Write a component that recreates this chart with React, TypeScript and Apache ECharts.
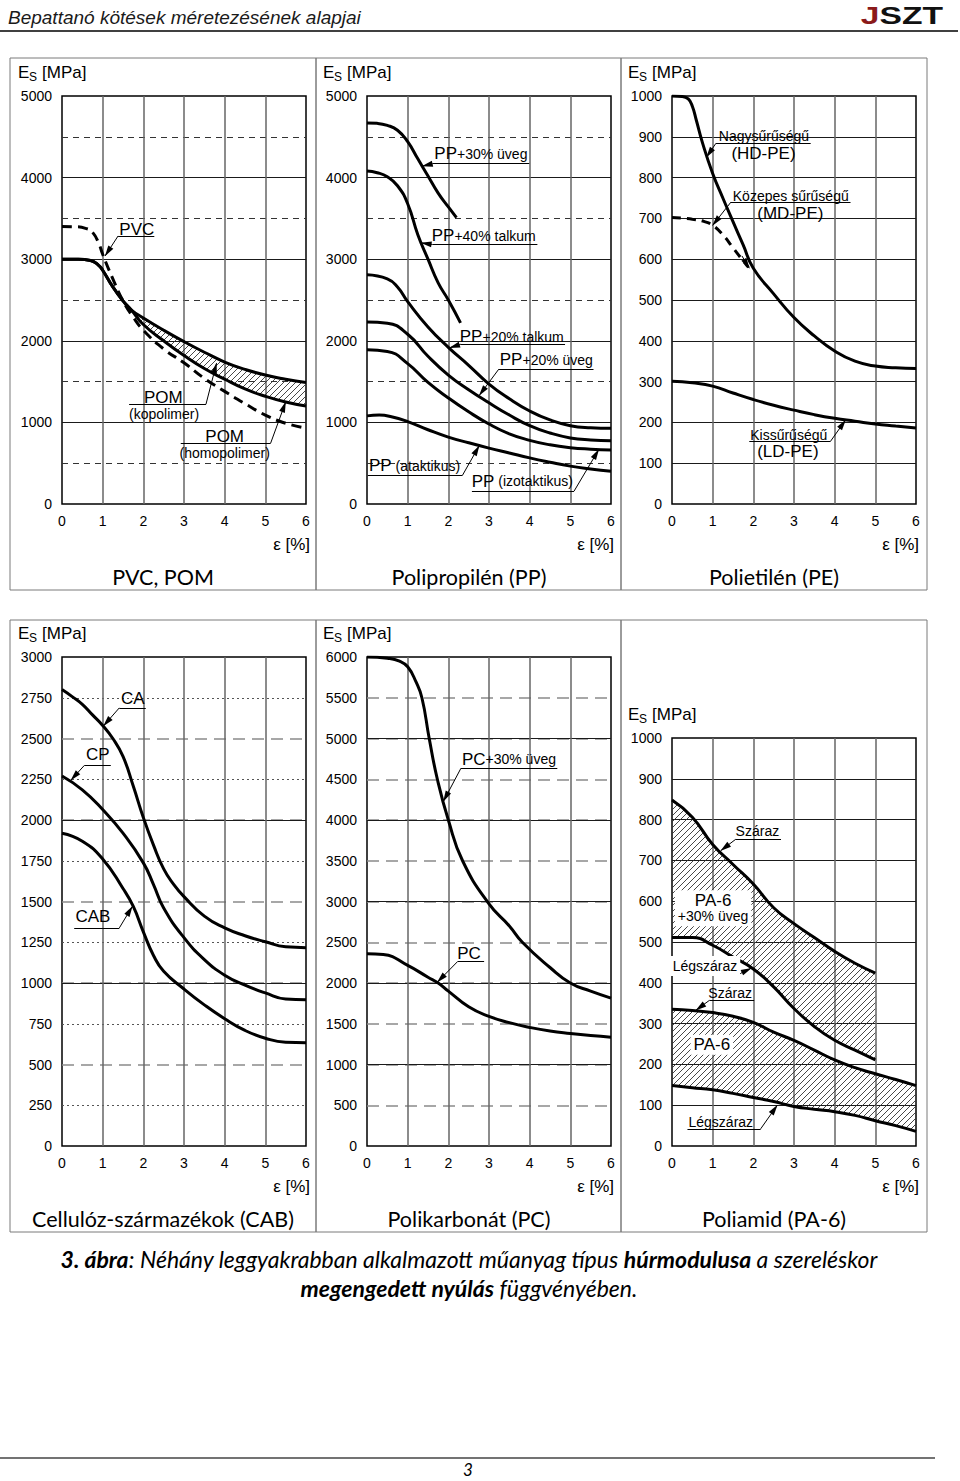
import React, { useEffect, useRef } from "react";
import * as echarts from "echarts";

type Pt = [number, number];

// ---------- DATA: strain ε [%] → secant modulus Es [MPa] ----------
// Panel 1: PVC, POM
const pvcCurve: Pt[] = [[0, 3400], [0.3, 3398], [0.6, 3375], [0.75, 3330], [0.9, 3200], [1, 3060], [1.25, 2760], [1.5, 2490], [1.75, 2290], [2, 2130], [2.5, 1900], [3, 1730], [3.5, 1540], [4, 1380], [4.5, 1230], [5, 1090], [5.5, 990], [6, 930]];
const pomShared: Pt[] = [[0, 3000], [0.4, 3000], [0.7, 2985], [0.9, 2925], [1, 2865], [1.25, 2660], [1.5, 2490]];
const pomKopolimer: Pt[] = [[1.7, 2380], [2, 2280], [2.5, 2130], [3, 1990], [3.5, 1860], [4, 1740], [4.5, 1650], [5, 1580], [5.5, 1530], [6, 1490]];
const pomHomopolimer: Pt[] = [[1.7, 2380], [2, 2200], [2.5, 2000], [3, 1820], [3.5, 1660], [4, 1530], [4.5, 1410], [5, 1320], [5.5, 1250], [6, 1200]];

// Panel 2: PP
const pp30Glass: Pt[] = [[0, 4670], [0.25, 4665], [0.5, 4640], [0.75, 4580], [1, 4440], [1.25, 4230], [1.5, 4020], [1.75, 3810], [2, 3640], [2.2, 3510]];
const pp40Talc: Pt[] = [[0, 4080], [0.25, 4060], [0.5, 4010], [0.75, 3900], [1, 3680], [1.25, 3300], [1.5, 3000], [1.75, 2710], [2, 2500], [2.3, 2220]];
const pp20Talc: Pt[] = [[0, 2810], [0.5, 2760], [0.75, 2660], [1, 2480], [1.5, 2170], [2, 1920], [2.5, 1700], [3, 1470], [3.5, 1290], [4, 1140], [4.5, 1030], [5, 960], [5.5, 935], [6, 928]];
const pp20Glass: Pt[] = [[0, 2230], [0.5, 2215], [1, 2080], [1.5, 1810], [2, 1580], [2.5, 1400], [3, 1240], [3.5, 1090], [4, 960], [4.5, 870], [5, 810], [5.5, 785], [6, 776]];
const ppIsotactic: Pt[] = [[0, 1890], [0.5, 1870], [1, 1720], [1.5, 1490], [2, 1300], [2.5, 1130], [3, 980], [3.5, 860], [4, 780], [4.5, 725], [5, 690], [5.5, 672], [6, 662]];
const ppAtactic: Pt[] = [[0, 1080], [0.3, 1090], [0.6, 1070], [1, 1010], [1.5, 910], [2, 820], [2.5, 750], [3, 685], [3.5, 625], [4, 565], [4.5, 512], [5, 464], [5.5, 428], [6, 400]];

// Panel 3: PE
const hdpe: Pt[] = [[0, 1000], [0.25, 999], [0.4, 993], [0.5, 975], [0.6, 940], [0.75, 885], [1, 810], [1.25, 750], [1.5, 692], [1.75, 635], [2, 578], [2.5, 515], [3, 457], [3.5, 412], [4, 375], [4.5, 350], [5, 338], [5.5, 334], [6, 332]];
const mdpe: Pt[] = [[0, 702], [0.5, 698], [0.8, 692], [1, 683], [1.25, 660], [1.5, 628], [1.75, 596], [1.88, 580]];
const ldpe: Pt[] = [[0, 301], [0.5, 297], [1, 289], [1.5, 272], [2, 256], [2.5, 242], [3, 230], [3.5, 219], [4, 210], [4.5, 203], [5, 196], [5.5, 191], [6, 186]];

// Panel 4: cellulose derivatives
const caCurve: Pt[] = [[0, 2800], [0.25, 2757], [0.5, 2710], [0.75, 2645], [1, 2580], [1.25, 2500], [1.5, 2390], [1.75, 2210], [2, 2015], [2.25, 1846], [2.5, 1700], [2.75, 1604], [3, 1530], [3.5, 1410], [4, 1338], [4.5, 1290], [5, 1253], [5.5, 1222], [6, 1217]];
const cpCurve: Pt[] = [[0, 2270], [0.5, 2185], [1, 2064], [1.5, 1919], [2, 1737], [2.25, 1604], [2.5, 1460], [3, 1278], [3.5, 1144], [4, 1048], [4.5, 987], [5, 939], [5.5, 902], [6, 898]];
const cabCurve: Pt[] = [[0, 1919], [0.5, 1870], [1, 1761], [1.5, 1580], [1.75, 1471], [2, 1314], [2.25, 1169], [2.5, 1072], [3, 963], [3.5, 866], [4, 781], [4.5, 709], [5, 661], [5.5, 636], [6, 633]];

// Panel 5: PC
const pc30Glass: Pt[] = [[0, 6000], [0.5, 5985], [0.8, 5950], [1, 5880], [1.2, 5700], [1.35, 5500], [1.53, 5000], [1.73, 4500], [2, 4000], [2.35, 3500], [3, 2970], [3.5, 2700], [3.82, 2500], [4.5, 2190], [5, 2000], [5.5, 1900], [6, 1815]];
const pcCurve: Pt[] = [[0, 2360], [0.4, 2350], [1, 2216], [1.5, 2071], [1.75, 2000], [2, 1901], [2.5, 1708], [3, 1590], [3.5, 1514], [4, 1455], [4.5, 1410], [5, 1380], [5.5, 1355], [6, 1335]];

// Panel 6: PA-6
const pa30Dry: Pt[] = [[0, 848], [0.5, 806], [1, 739], [1.5, 690], [2, 642], [2.5, 584], [3, 545], [3.5, 511], [4, 477], [4.5, 448], [5, 424]];
const pa30AirDry: Pt[] = [[0, 511], [0.5, 511], [1, 492], [1.5, 463], [2, 434], [2.5, 390], [3, 337], [3.5, 293], [4, 259], [4.5, 235], [5, 211]];
const pa6Dry: Pt[] = [[0, 335], [0.5, 332], [1, 327], [1.5, 318], [2, 303], [2.5, 279], [3, 259], [3.5, 235], [4, 211], [4.5, 192], [5, 177], [5.5, 163], [6, 148]];
const pa6AirDry: Pt[] = [[0, 148], [0.5, 143], [1, 138], [1.5, 129], [2, 119], [2.5, 109], [3, 97], [3.5, 90], [4, 84], [4.5, 75], [5, 62], [5.5, 50], [6, 36]];

// Axis settings
const yMax = [5000, 5000, 1000, 3000, 6000, 1000];
const panelTitles = ["PVC, POM", "Polipropilén (PP)", "Polietilén (PE)", "Cellulóz-származékok (CAB)", "Polikarbonát (PC)", "Poliamid (PA-6)"];

// ---------- STYLE ----------
const FONT = '"Liberation Sans", Arial, Helvetica, sans-serif';
const CAL = 'Lato, "Open Sans", sans-serif';
const SMOOTH = 0.5;
const RICH: any = {
  L: { fontSize: 17, fontFamily: FONT, color: "#000" },
  m: { fontSize: 14, fontFamily: FONT, color: "#000" },
};
const SOLID = { color: "#1a1a1a", width: 1, type: "solid" };
const DASH = { color: "#333", width: 1, type: [6, 5] };
const LONG = { color: "#8a8a8a", width: 1.5, type: [12, 7] };
const DOT = { color: "#555", width: 1, type: [2, 3] };

const hatchSvg =
  "<svg xmlns='http://www.w3.org/2000/svg' width='6' height='6'><path d='M0 6L6 0M-1 1L1 -1M5 7L7 5' stroke='#333' stroke-width='0.9'/></svg>";
const HATCH: any = {
  image: "data:image/svg+xml;charset=utf-8," + encodeURIComponent(hatchSvg),
  repeat: "repeat",
  imageWidth: 6,
  imageHeight: 6,
};

type Note = { t: string; at: Pt; bg?: boolean };
type Under = [number, number, number];
type Lead = [Pt, Pt];

function buildOption(): any {
  const gridBoxes = [
    { left: 62, top: 96, width: 244, height: 408 },
    { left: 367, top: 96, width: 244, height: 408 },
    { left: 672, top: 96, width: 244, height: 408 },
    { left: 62, top: 657, width: 244, height: 489 },
    { left: 367, top: 657, width: 244, height: 489 },
    { left: 672, top: 738, width: 244, height: 408 },
  ];
  const grid = gridBoxes.map((g) => ({
    ...g,
    show: true,
    borderColor: "#000",
    borderWidth: 1.5,
    backgroundColor: "transparent",
    containLabel: false,
    outerBoundsMode: "none",
  }));

  const xAxis = gridBoxes.map((_, i) => ({
    type: "value",
    gridIndex: i,
    min: 0,
    max: 6,
    interval: 1,
    axisLine: { show: false },
    axisTick: { show: false },
    axisLabel: { color: "#000", fontSize: 14, fontFamily: FONT, margin: 10 },
    splitLine: { show: true, showMinLine: false, showMaxLine: false, lineStyle: { color: "#666", width: 1.5 } },
  }));

  const yBase = (g: number, interval: number, labels = true, split: any = null, minor: any = null): any => ({
    type: "value",
    gridIndex: g,
    min: 0,
    max: yMax[g],
    interval,
    axisLine: { show: false },
    axisTick: { show: false },
    axisLabel: {
      show: labels,
      color: "#000",
      fontSize: 14,
      fontFamily: FONT,
      margin: 10,
      formatter: (v: number) => String(v),
    },
    splitLine: split
      ? { show: true, showMinLine: false, showMaxLine: false, lineStyle: split }
      : { show: false },
    minorTick: { show: false, splitNumber: 2 },
    minorSplitLine: minor ? { show: true, lineStyle: minor } : { show: false },
  });

  const yAxis = [
    yBase(0, 1000, true, SOLID, DASH), // 0
    yBase(1, 1000, true, SOLID, DASH), // 1
    yBase(2, 100, true, SOLID), // 2
    yBase(3, 250, true), // 3
    yBase(3, 500, false, LONG, DOT), // 4
    yBase(3, 1000, false, SOLID), // 5
    yBase(4, 500, true, LONG), // 6
    yBase(4, 1000, false, SOLID), // 7
    yBase(5, 100, true, SOLID), // 8
  ];
  const Y = [0, 1, 2, 3, 6, 8];

  const curve = (p: number, data: Pt[], dashed: any = null) => ({
    type: "line",
    xAxisIndex: p,
    yAxisIndex: Y[p],
    data,
    smooth: SMOOTH,
    symbol: "none",
    showSymbol: false,
    silent: true,
    z: 3,
    lineStyle: { color: "#000", width: 3, type: dashed || "solid" },
  });

  // hatched band between two curves: stacked on the value (first) dimension
  const band = (p: number, lo: Pt[], hi: Pt[], id: string) => [
    {
      type: "line",
      xAxisIndex: p,
      yAxisIndex: Y[p],
      data: lo.map(([x, v]) => [v, x]),
      encode: { x: 1, y: 0 },
      stack: id,
      smooth: SMOOTH,
      symbol: "none",
      silent: true,
      z: 2,
      lineStyle: { width: 0, opacity: 0 },
    },
    {
      type: "line",
      xAxisIndex: p,
      yAxisIndex: Y[p],
      data: hi.map(([x, v], i) => [v - lo[i][1], x]),
      encode: { x: 1, y: 0 },
      stack: id,
      smooth: SMOOTH,
      symbol: "none",
      silent: true,
      z: 2,
      lineStyle: { width: 0, opacity: 0 },
      areaStyle: { color: HATCH, opacity: 1 },
    },
  ];

  const notes = (p: number, texts: Note[], unders: Under[], leads: Lead[]) => ({
    type: "line",
    xAxisIndex: p,
    yAxisIndex: Y[p],
    data: [],
    symbol: "none",
    silent: true,
    z: 5,
    markLine: {
      silent: true,
      animation: false,
      symbol: ["none", "none"],
      label: { show: false },
      lineStyle: { color: "#000", width: 1, type: "solid" },
      data: [
        ...unders.map(([a, b, y]) => [{ coord: [a, y] }, { coord: [b, y] }]),
        ...leads.map(([s, e]) => [
          { coord: s },
          { coord: e, symbol: "triangle", symbolSize: [6, 11], symbolOffset: [0, 5] },
        ]),
      ],
    },
    markPoint: {
      silent: true,
      animation: false,
      data: texts.map((n) => ({
        coord: n.at,
        symbol: "rect",
        symbolSize: 1,
        itemStyle: { color: "rgba(0,0,0,0)" },
        label: {
          show: true,
          position: "inside",
          formatter: () => n.t,
          color: "#000",
          fontSize: 14,
          fontFamily: FONT,
          align: "center",
          lineHeight: 16,
          rich: RICH,
          backgroundColor: n.bg ? "#fff" : "transparent",
          padding: n.bg ? [2, 3] : 0,
        },
      })),
    },
  });

  const series: any[] = [
    // Panel 1
    ...band(0, pomHomopolimer, pomKopolimer, "pom"),
    curve(0, [...pomShared, ...pomKopolimer]),
    curve(0, [...pomShared, ...pomHomopolimer]),
    curve(0, pvcCurve, [10, 6]),
    notes(
      0,
      [
        { t: "{L|PVC}", at: [1.84, 3363] },
        { t: "{L|POM}", at: [2.49, 1300] },
        { t: "{m|(kopolimer)}", at: [2.51, 1105] },
        { t: "{L|POM}", at: [4.0, 822] },
        { t: "{m|(homopolimer)}", at: [4.0, 620] },
      ],
      [[1.38, 2.27, 3285], [1.65, 3.54, 1222], [2.92, 5.13, 745]],
      [[[1.38, 3285], [1.06, 3040]], [[3.54, 1222], [3.8, 1726]], [[5.13, 745], [5.5, 1250]]]
    ),
    // Panel 2
    curve(1, pp30Glass),
    curve(1, pp40Talc),
    curve(1, pp20Talc),
    curve(1, pp20Glass),
    curve(1, ppIsotactic),
    curve(1, ppAtactic),
    notes(
      1,
      [
        { t: "{L|PP}{m|+30% üveg}", at: [2.8, 4295] },
        { t: "{L|PP}{m|+40% talkum}", at: [2.87, 3290] },
        { t: "{L|PP}{m|+20% talkum}", at: [3.56, 2050] },
        { t: "{L|PP}{m|+20% üveg}", at: [4.41, 1765] },
        { t: "{L|PP}{m| (ataktikus)}", at: [1.17, 470] },
        { t: "{L|PP}{m| (izotaktikus)}", at: [3.82, 278] },
      ],
      [[1.61, 3.99, 4170], [1.61, 4.19, 3180], [2.31, 4.87, 1958], [3.24, 5.57, 1652], [0.02, 2.35, 354], [2.58, 5.09, 156]],
      [
        [[1.61, 4170], [1.36, 4140]],
        [[1.61, 3180], [1.33, 3200]],
        [[2.31, 1958], [2.03, 1915]],
        [[3.24, 1652], [2.76, 1330]],
        [[2.35, 354], [2.76, 715]],
        [[5.09, 156], [5.7, 668]],
      ]
    ),
    // Panel 3
    curve(2, hdpe),
    curve(2, ldpe),
    curve(2, mdpe, [9, 6]),
    notes(
      2,
      [
        { t: "{m|Nagysűrűségű}", at: [2.26, 903] },
        { t: "{L|(HD-PE)}", at: [2.25, 858] },
        { t: "{m|Közepes sűrűségű}", at: [2.92, 756] },
        { t: "{L|(MD-PE)}", at: [2.91, 713] },
        { t: "{m|Kissűrűségű}", at: [2.87, 170] },
        { t: "{L|(LD-PE)}", at: [2.85, 128] },
      ],
      [[1.08, 3.41, 884], [1.45, 4.39, 740], [1.9, 3.9, 154]],
      [
        [[1.08, 884], [0.85, 850]],
        [[1.45, 740], [1.0, 683]],
        [[3.9, 154], [4.27, 206]],
        [[1.72, 608], [1.9, 578]],
      ]
    ),
    // Panel 4
    curve(3, caCurve),
    curve(3, cpCurve),
    curve(3, cabCurve),
    notes(
      3,
      [
        { t: "{L|CA}", at: [1.74, 2748] },
        { t: "{L|CP}", at: [0.88, 2399] },
        { t: "{L|CAB}", at: [0.76, 1411] },
      ],
      [[1.41, 2.06, 2688], [0.55, 1.2, 2335], [0.3, 1.41, 1338]],
      [[[1.41, 2688], [1.02, 2577]], [[0.55, 2335], [0.22, 2245]], [[1.41, 1338], [1.73, 1470]]]
    ),
    // Panel 5
    curve(4, pc30Glass),
    curve(4, pcCurve),
    notes(
      4,
      [
        { t: "{L|PC}{m|+30% üveg}", at: [3.49, 4748] },
        { t: "{L|PC}", at: [2.51, 2368] },
      ],
      [[2.31, 4.68, 4635], [2.23, 2.88, 2264]],
      [[[2.31, 4635], [1.88, 4230]], [[2.23, 2264], [1.73, 2010]]]
    ),
    // Panel 6
    ...band(5, pa30AirDry, pa30Dry, "pa30"),
    ...band(5, pa6AirDry, pa6Dry, "pa6"),
    curve(5, pa30Dry),
    curve(5, pa30AirDry),
    curve(5, pa6Dry),
    curve(5, pa6AirDry),
    notes(
      5,
      [
        { t: "{m|Száraz}", at: [2.1, 772] },
        { t: "{L|PA-6}\n{m|+30% üveg}", at: [1.01, 583], bg: true },
        { t: "{m|Légszáraz}", at: [0.81, 441], bg: true },
        { t: "{m|Száraz}", at: [1.43, 375] },
        { t: "{L|PA-6}", at: [0.98, 248], bg: true },
        { t: "{m|Légszáraz}", at: [1.2, 59] },
      ],
      [[1.57, 2.68, 752], [0.02, 1.7, 424], [0.92, 2.02, 357], [0.38, 2.18, 42]],
      [
        [[1.57, 752], [1.2, 724]],
        [[1.7, 424], [1.95, 436]],
        [[0.92, 357], [0.59, 333]],
        [[2.18, 42], [2.59, 100]],
      ]
    ),
  ];

  // ---------- page graphics ----------
  const T = (x: number, y: number, text: string, fontSize: number, extra: any = {}) => ({
    type: "text",
    x,
    y,
    silent: true,
    style: { text, fill: "#000", fontSize, fontFamily: FONT, align: "left", verticalAlign: "middle", ...extra },
  });
  const L = (x1: number, y1: number, x2: number, y2: number, w = 1, c = "#000") => ({
    type: "line",
    silent: true,
    shape: { x1, y1, x2, y2 },
    style: { stroke: c, lineWidth: w },
  });

  const g: any[] = [];
  g.push(T(8, 17, "Bepattanó kötések méretezésének alapjai", 19, { fontStyle: "italic", fill: "#1a1a1a" }));
  g.push(L(0, 31, 958, 31, 1.5));
  g.push({
    type: "text",
    x: 943,
    y: 16,
    scaleX: 1.4,
    silent: true,
    style: {
      text: "{j|J}{k|SZT}",
      align: "right",
      verticalAlign: "middle",
      rich: {
        j: { fill: "#8b1a1a", fontSize: 24, fontWeight: "bold", fontFamily: FONT },
        k: { fill: "#111", fontSize: 24, fontWeight: "bold", fontFamily: FONT },
      },
    },
  });

  const boxX = [10, 316, 621, 927];
  const rows = [
    { top: 58, bottom: 590 },
    { top: 620, bottom: 1232 },
  ];
  rows.forEach((r) => {
    for (let c = 0; c < 3; c++) {
      g.push({
        type: "rect",
        silent: true,
        shape: { x: boxX[c], y: r.top, width: boxX[c + 1] - boxX[c], height: r.bottom - r.top },
        style: { fill: "none", stroke: "#7a7a7a", lineWidth: 1 },
      });
    }
  });

  const colLeft = [18, 323, 628];
  const esPos: Pt[] = [
    [colLeft[0], 72], [colLeft[1], 72], [colLeft[2], 72],
    [colLeft[0], 633], [colLeft[1], 633], [colLeft[2], 714],
  ];
  esPos.forEach(([x, y]) => {
    g.push(T(x, y, "E", 17));
    g.push(T(x + 11, y + 5, "S", 12));
    g.push(T(x + 24, y, "[MPa]", 17));
  });

  const epsRight = [310, 614, 919];
  const titleX = [163, 469, 774];
  [544, 1186].forEach((y, r) => {
    epsRight.forEach((x) => g.push(T(x, y, "ε [%]", 17, { align: "right" })));
    titleX.forEach((x, c) =>
      g.push(T(x, r === 0 ? 577 : 1219, panelTitles[r * 3 + c], 21.5, { align: "center", fontFamily: CAL }))
    );
  });

  const capRich = {
    b: { fontFamily: CAL, fontSize: 23, fontStyle: "italic", fontWeight: "bold", fill: "#000" },
    n: { fontFamily: CAL, fontSize: 23, fontStyle: "italic", fontWeight: "normal", fill: "#000" },
  };
  g.push({
    type: "text",
    x: 469,
    y: 1259,
    silent: true,
    style: {
      text: "{b|3. ábra}{n|: Néhány leggyakrabban alkalmazott műanyag típus }{b|húrmodulusa}{n| a szereléskor}",
      align: "center",
      verticalAlign: "middle",
      rich: capRich,
    },
  });
  g.push({
    type: "text",
    x: 469,
    y: 1288,
    silent: true,
    style: {
      text: "{b|megengedett nyúlás}{n| függvényében.}",
      align: "center",
      verticalAlign: "middle",
      rich: capRich,
    },
  });
  g.push(L(0, 1458, 935, 1458, 1.5, "#444"));
  g.push(T(468, 1469, "3", 17, { align: "center", fontFamily: CAL, fontStyle: "italic" }));

  return {
    animation: false,
    backgroundColor: "#fff",
    grid,
    xAxis,
    yAxis,
    series,
    graphic: { elements: g },
  };
}

export default function App() {
  const ref = useRef<HTMLDivElement>(null);
  useEffect(() => {
    if (!ref.current) return;
    const chart = echarts.init(ref.current, null, { renderer: "svg", width: 960, height: 1481 });
    chart.setOption(buildOption());
    return () => chart.dispose();
  }, []);
  return (
    <div
      ref={ref}
      style={{ position: "absolute", left: 0, top: 0, width: 960, height: 1481, background: "#fff" }}
    />
  );
}
